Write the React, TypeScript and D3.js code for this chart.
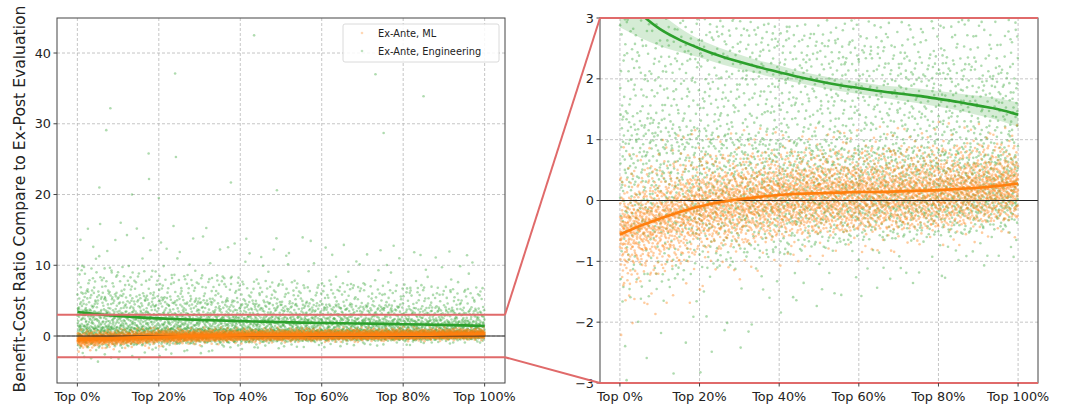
import React from "react";
import * as d3 from "d3";

// ---------- data ----------
const xTickValues = [0, 20, 40, 60, 80, 100];
const xTickLabels = ["Top 0%", "Top 20%", "Top 40%", "Top 60%", "Top 80%", "Top 100%"];
const leftYTicks = [0, 10, 20, 30, 40];
const rightYTicks = [-3, -2, -1, 0, 1, 2, 3];
const seriesNames = ["Ex-Ante, ML", "Ex-Ante, Engineering"];

// scatter cloud description: per x position, value quantiles of each series
const bandX = [0, 20, 40, 60, 80, 100];
const quantileLevels = [0, 0.02, 0.1, 0.25, 0.5, 0.75, 0.9, 0.98, 1];
const engQuantiles = [
  [-4.2, -1.8, -0.6, 0.25, 1.5, 3.9, 6.6, 10.2, 17],
  [-3.0, -1.2, -0.5, 0.15, 1.2, 3.3, 5.7, 9.2, 16],
  [-2.0, -0.9, -0.4, 0.1, 1.0, 2.9, 5.1, 8.3, 15],
  [-1.6, -0.7, -0.3, 0.1, 0.9, 2.6, 4.6, 7.6, 14],
  [-1.3, -0.6, -0.25, 0.1, 0.85, 2.4, 4.3, 7.4, 13],
  [-1.0, -0.45, -0.15, 0.1, 0.75, 2.1, 3.9, 6.8, 12],
];
const mlQuantiles = [
  [-2.3, -1.5, -1.1, -0.8, -0.5, -0.25, 0.05, 0.45, 0.9],
  [-1.6, -0.9, -0.6, -0.35, -0.1, 0.15, 0.4, 0.75, 1.2],
  [-1.1, -0.6, -0.4, -0.18, 0.05, 0.28, 0.5, 0.8, 1.2],
  [-0.9, -0.5, -0.33, -0.13, 0.1, 0.32, 0.55, 0.85, 1.2],
  [-0.8, -0.45, -0.28, -0.08, 0.13, 0.36, 0.6, 0.9, 1.3],
  [-0.6, -0.3, -0.15, 0.05, 0.25, 0.45, 0.65, 0.95, 1.3],
];
const pointsPerSeries = 4000;

// individually visible large outliers (Engineering)
const engOutlierX = [5.4, 7.1, 8.1, 13.4, 17.5, 17.6, 20, 24, 24.2, 37.7, 43.4, 49, 73.2, 75.2, 85];
const engOutlierY = [21.0, 29.1, 32.2, 20.0, 25.8, 22.2, 19.5, 37.1, 25.3, 21.7, 42.5, 20.6, 37.0, 28.7, 33.9];

// smoothed trend lines
const trendX = [0, 5, 10, 15, 20, 25, 30, 35, 40, 45, 50, 55, 60, 65, 70, 75, 80, 85, 90, 95, 100];
const engTrend = [3.4, 3.08, 2.82, 2.64, 2.5, 2.38, 2.28, 2.19, 2.11, 2.03, 1.96, 1.9, 1.85, 1.8, 1.76, 1.72, 1.67, 1.62, 1.56, 1.5, 1.41];
const engBand = [0.55, 0.4, 0.28, 0.2, 0.15, 0.13, 0.12, 0.11, 0.11, 0.1, 0.1, 0.1, 0.1, 0.1, 0.11, 0.12, 0.13, 0.14, 0.16, 0.18, 0.2];
const mlTrend = [-0.56, -0.42, -0.3, -0.19, -0.1, -0.03, 0.02, 0.06, 0.09, 0.11, 0.12, 0.13, 0.14, 0.14, 0.15, 0.16, 0.17, 0.19, 0.21, 0.24, 0.28];
const mlBand = [0.08, 0.06, 0.05, 0.04, 0.035, 0.03, 0.03, 0.03, 0.03, 0.03, 0.03, 0.03, 0.03, 0.03, 0.03, 0.03, 0.03, 0.035, 0.04, 0.05, 0.06];

const GREEN = "#2ca02c";
const ORANGE = "#ff7f0e";
const RED = "#e06a6a";

// ---------- helpers ----------
function halton(i: number, b: number) {
  let f = 1, r = 0;
  while (i > 0) { f /= b; r += f * (i % b); i = Math.floor(i / b); }
  return r;
}
const bandIndex = d3.scaleLinear().domain(bandX).range(bandX.map((_, i) => i)).clamp(true);
function quantAt(q: number[][], x: number, u: number) {
  const bi = bandIndex(x);
  const i0 = Math.min(Math.floor(bi), bandX.length - 2);
  const t = bi - i0;
  const qs = q[i0].map((v, k) => v + (q[i0 + 1][k] - v) * t);
  const s = d3.scaleLinear().domain(quantileLevels).range(qs);
  return s(u);
}
function cloud(q: number[][], offset: number) {
  const pts: { x: number; y: number }[] = [];
  for (let i = 1; i <= pointsPerSeries; i++) {
    const x = halton(i + offset, 2) * 100;
    const u = halton(i + offset, 3);
    pts.push({ x, y: quantAt(q, x, u) });
  }
  return pts;
}
const mlPoints = cloud(mlQuantiles, 60013);
const engPoints = cloud(engQuantiles, 3).concat(
  engOutlierX.map((x, i) => ({ x, y: engOutlierY[i] }))
);

// ---------- layout ----------
const W = 1073, H = 406;
const top = 18, bottom = 383;
const L = { x0: 57, x1: 505, y0: -6.64, y1: 44.95 };
const R = { x0: 600, x1: 1038, y0: -3, y1: 3 };
const FONT = "DejaVu Sans, sans-serif";

function Panel({ id, P, yTicks, minusSign }: any) {
  const x = d3.scaleLinear().domain([-5, 105]).range([P.x0, P.x1]);
  const y = d3.scaleLinear().domain([P.y0, P.y1]).range([bottom, top]);
  const line = d3.line<number>().x((_, i) => x(trendX[i])).y((d) => y(d)).curve(d3.curveMonotoneX);
  const engArea = d3.area<number>().x((_, i) => x(trendX[i])).curve(d3.curveMonotoneX)
    .y0((_, i) => y(engTrend[i] - engBand[i])).y1((_, i) => y(engTrend[i] + engBand[i]))(engTrend);
  const mlArea = d3.area<number>().x((_, i) => x(trendX[i])).curve(d3.curveMonotoneX)
    .y0((_, i) => y(mlTrend[i] - mlBand[i])).y1((_, i) => y(mlTrend[i] + mlBand[i]))(mlTrend);
  const fmt = (v: number) => (minusSign && v < 0 ? "\u2212" + Math.abs(v) : String(v));
  return (
    <g>
      <defs>
        <clipPath id={id}>
          <rect x={P.x0} y={top} width={P.x1 - P.x0} height={bottom - top} />
        </clipPath>
      </defs>
      {/* grid */}
      <g stroke="#b8b8b8" strokeWidth={0.8} strokeDasharray="3,2">
        {xTickValues.map((v) => (
          <line key={"gx" + v} x1={x(v)} x2={x(v)} y1={top} y2={bottom} />
        ))}
        {yTicks.map((v: number) => (
          <line key={"gy" + v} x1={P.x0} x2={P.x1} y1={y(v)} y2={y(v)} />
        ))}
      </g>
      <g clipPath={`url(#${id})`}>
        <g fill={GREEN} fillOpacity={0.38}>
          {engPoints.map((p, i) => (
            <circle key={i} cx={x(p.x)} cy={y(p.y)} r={1.3} />
          ))}
        </g>
        <g fill={ORANGE} fillOpacity={0.4}>
          {mlPoints.map((p, i) => (
            <circle key={i} cx={x(p.x)} cy={y(p.y)} r={1.3} />
          ))}
        </g>
        <line x1={P.x0} x2={P.x1} y1={y(0)} y2={y(0)} stroke="#222" strokeWidth={1.2} />
        <path d={engArea || ""} fill={GREEN} fillOpacity={0.2} />
        <path d={mlArea || ""} fill={ORANGE} fillOpacity={0.2} />
        <path d={line(engTrend) || ""} fill="none" stroke={GREEN} strokeWidth={2.6} />
        <path d={line(mlTrend) || ""} fill="none" stroke={ORANGE} strokeWidth={2.6} />
      </g>
      {/* frame */}
      <rect x={P.x0} y={top} width={P.x1 - P.x0} height={bottom - top} fill="none" stroke="#444" strokeWidth={1} />
      {/* red zoom lines at +-3 */}
      <line x1={P.x0} x2={P.x1} y1={y(3)} y2={y(3)} stroke={RED} strokeWidth={2} />
      <line x1={P.x0} x2={P.x1} y1={y(-3)} y2={y(-3)} stroke={RED} strokeWidth={2} />
      {/* ticks */}
      <g fontFamily={FONT} fontSize={12.8} fill="#222">
        {xTickValues.map((v, i) => (
          <g key={"tx" + v}>
            <line x1={x(v)} x2={x(v)} y1={bottom} y2={bottom + 3.5} stroke="#444" />
            <text x={x(v)} y={bottom + 17.5} textAnchor="middle">{xTickLabels[i]}</text>
          </g>
        ))}
        {yTicks.map((v: number) => (
          <g key={"ty" + v}>
            <line x1={P.x0 - 3.5} x2={P.x0} y1={y(v)} y2={y(v)} stroke="#444" />
            <text x={P.x0 - 6} y={y(v)} dy="0.36em" textAnchor="end">{fmt(v)}</text>
          </g>
        ))}
      </g>
    </g>
  );
}

export default function App() {
  const yl = d3.scaleLinear().domain([L.y0, L.y1]).range([bottom, top]);
  return (
    <svg width={W} height={H} style={{ position: "absolute", left: 0, top: 0, background: "#fff" }}>
      <rect width={W} height={H} fill="#fff" />
      <Panel id="clipL" P={L} yTicks={leftYTicks} minusSign={false} />
      <Panel id="clipR" P={R} yTicks={rightYTicks} minusSign={true} />
      {/* connectors */}
      <line x1={L.x1} y1={yl(3)} x2={R.x0} y2={top} stroke={RED} strokeWidth={2} />
      <line x1={L.x1} y1={yl(-3)} x2={R.x0} y2={bottom} stroke={RED} strokeWidth={2} />
      {/* legend */}
      <g>
        <rect x={343} y={24} width={156} height={38} rx={2} fill="#fff" fillOpacity={0.85} stroke="#d0d0d0" strokeWidth={0.8} />
        <circle cx={362} cy={33} r={1.3} fill={ORANGE} fillOpacity={0.3} />
        <circle cx={362} cy={51} r={1.3} fill={GREEN} fillOpacity={0.3} />
        <g fontFamily={FONT} fontSize={9.8} fill="#222">
          <text x={378} y={36.5}>{seriesNames[0]}</text>
          <text x={378} y={54.5}>{seriesNames[1]}</text>
        </g>
      </g>
      {/* y label */}
      <text transform="translate(25,199) rotate(-90)" textAnchor="middle" fontFamily={FONT} fontSize={15.6} fill="#222">
        Benefit-Cost Ratio Compare to Ex-Post Evaluation
      </text>
    </svg>
  );
}
